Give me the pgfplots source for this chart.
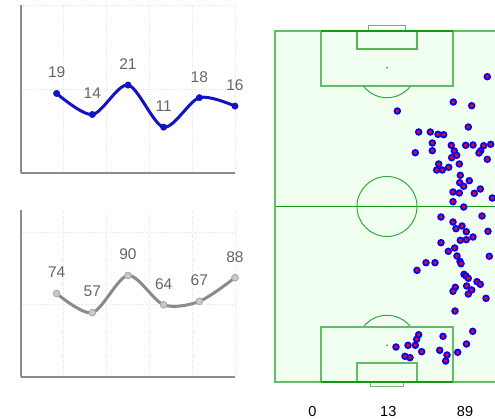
\documentclass[border=0pt]{standalone}
\usepackage{pgfplots}
\pgfplotsset{compat=1.18}
\usepackage{fontspec}
\setmainfont{Liberation Sans}
\definecolor{lineblue}{HTML}{1212C4}
\definecolor{gridgray}{HTML}{E2E2E2}
\definecolor{axgray}{HTML}{8C8C8C}
\definecolor{lblgray}{HTML}{666666}
\definecolor{graysmooth}{HTML}{8A8A8A}
\definecolor{graymark}{HTML}{C8C8C8}
\definecolor{pitchbg}{HTML}{F0FFF0}
\definecolor{pitchline}{HTML}{66BB66}
\definecolor{pitchdark}{HTML}{139A13}
\pgfplotsset{
  mini/.style={
    scale only axis, width=214pt,
    xmin=0, xmax=6,
    axis lines*=left,
    axis line style={axgray, line width=2pt},
    xtick={1.2,2.4,3.6,4.8,6}, xticklabels={},
    yticklabels={},
    major tick length=0pt,
    grid=major,
    grid style={dotted, gridgray, line width=0.7pt},
    clip=false,
    point meta=explicit symbolic,
    nodes near coords,
    every node near coord/.append style={font=\fontsize{15.5}{15.5}\selectfont, text=lblgray, anchor=center, yshift=21pt},
  }
}
\begin{document}
\begin{tikzpicture}
\path[use as bounding box] (0,0) rectangle (495pt,-419pt);
% top mini chart
\begin{axis}[mini, at={(21pt,-173.5pt)}, anchor=south west, height=168.5pt,
  ymin=0, ymax=40, ytick={20,40}]
\addplot[lineblue, line width=3pt, smooth, mark=*, mark size=3.2pt,
  mark options={fill=lineblue, draw=lineblue, line width=0.5pt}]
  coordinates {(1,19) [19] (2,14) [14] (3,21) [21] (4,11) [11] (5,18) [18] (6,16) [16]};
\end{axis}
% bottom mini chart
\begin{axis}[mini, at={(21pt,-377pt)}, anchor=south west, height=167pt,
  ymin=0, ymax=148, ytick={64,128}]
\addplot[graysmooth, line width=3pt, smooth, mark=*, mark size=3.4pt,
  mark options={fill=graymark, draw=gray!70, line width=0.8pt}]
  coordinates {(1,74) [74] (2,57) [57] (3,90) [90] (4,64) [64] (5,67) [67] (6,88) [88]};
\end{axis}
% pitch
\begin{axis}[at={(275pt,-21pt)}, anchor=north west, scale only axis,
  width=220pt, height=370pt, xmin=0, xmax=220, ymin=-10, ymax=360,
  y dir=reverse, axis lines=none, clip=false]
\fill[pitchbg] (axis cs:0,0) rectangle (axis cs:224,351);
% halfway line and centre circle
\draw[pitchdark, line width=1.3pt] (axis cs:0,175.5) -- (axis cs:224,175.5);
\draw[pitchdark!85, line width=1pt] (axis cs:112,175.5) circle[radius=30pt];
\fill[pitchdark] (axis cs:112,175.5) circle[radius=0.9pt];
% top end
\draw[pitchline, line width=1.6pt] (axis cs:46,0) rectangle (axis cs:178,55);
\draw[pitchline!80!pitchdark, line width=1.4pt] (axis cs:82,0) rectangle (axis cs:142,18);
\draw[pitchline, line width=1pt] (axis cs:93,-6) rectangle (axis cs:130,0);
\fill[pitchdark] (axis cs:112,36.7) circle[radius=0.9pt];
\begin{scope}
\clip (axis cs:0,55.8) rectangle (axis cs:224,100);
\draw[pitchdark!85, line width=1pt] (axis cs:112,36.7) circle[radius=30pt];
\end{scope}
% bottom end
\draw[pitchline, line width=1.6pt] (axis cs:46,295.7) rectangle (axis cs:178,351);
\draw[pitchline, line width=1.4pt] (axis cs:82,332) rectangle (axis cs:142,351);
\draw[pitchline, line width=1pt] (axis cs:95,351) rectangle (axis cs:128,355.7);
\fill[pitchdark] (axis cs:112,314.3) circle[radius=0.9pt];
\begin{scope}
\clip (axis cs:0,250) rectangle (axis cs:224,294.9);
\draw[pitchdark!85, line width=1pt] (axis cs:112,314.3) circle[radius=30pt];
\end{scope}
% boundary
\draw[pitchline, line width=1.8pt] (axis cs:0,0) rectangle (axis cs:224,351);
\draw[pitchdark, line width=1.2pt] (axis cs:46,0) -- (axis cs:178,0);
\draw[pitchdark, line width=1.2pt] (axis cs:46,351) -- (axis cs:178,351);
% shots
\addplot[only marks, mark=*, mark size=2.8pt,
  mark options={draw=blue, fill=red, line width=1.8pt}] table {
x y
212.3 45.7
178.3 71
196.7 74.7
122.3 80
193.3 96
143.7 101
155.3 101
163 103.3
168.7 103.7
157.3 112
176.3 114.3
190.7 114.3
198 114
208.7 114.7
215.7 113.3
140.3 121.7
157.3 119.7
179.3 120
181.7 124.3
176.7 126.7
205.7 119.7
204 122
212.3 128.3
163.7 133
184.3 133
161.7 139
167.3 139
173.7 136.3
185.3 144.3
194.3 149.7
184.7 151.7
188.7 155.3
178 161
184.3 162
199.3 162.3
205.3 158
217.3 167
178 170.7
188.7 176
166 186
207 185
178 191
187 195
181 197.7
191.3 200.7
213 200.3
198 206
185.3 209.3
191.3 208.7
166 211.7
179.7 217
173.3 220.3
182 225
214.3 225.3
185 230.3
186 232.7
151 231.7
160 231.7
142 239.3
189 243.3
191 245
193.3 247.3
202 250.7
205.3 253.3
191.7 255
180.3 256.3
178 260.3
196.7 259
193.3 263
211 267.3
180 280
197.7 300.3
143.7 303.7
168 305.3
141.7 308.3
140.3 314.3
133 314.3
121 316
130 325.3
135 326.7
146.7 320.7
191.5 313
164.7 319.3
182.7 321.3
172 324
170.7 330
};
\node[font=\fontsize{14.5}{14.5}\selectfont, inner sep=0pt] at (axis cs:37.3,380.8) {0};
\node[font=\fontsize{14.5}{14.5}\selectfont, inner sep=0pt] at (axis cs:113.3,380.8) {13};
\node[font=\fontsize{14.5}{14.5}\selectfont, inner sep=0pt] at (axis cs:190,380.8) {89};
\end{axis}
\end{tikzpicture}
\end{document}
